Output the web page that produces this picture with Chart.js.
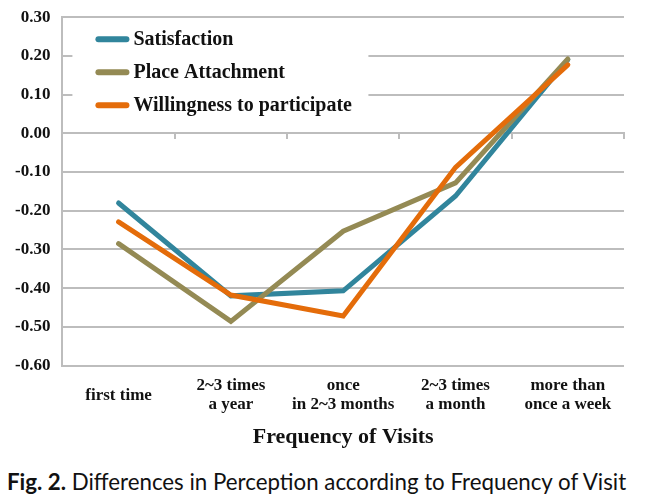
<!DOCTYPE html>
<html>
<head>
<meta charset="utf-8">
<script src="https://cdn.jsdelivr.net/npm/chart.js@4/dist/chart.umd.min.js"></script>
<style>
  body { margin: 0; background: #fff; }
  #wrap { position: relative; width: 645px; height: 499px; overflow: hidden; }
  #chartBox { position: absolute; left: 0; top: -5px; width: 645px; height: 456px; }
  #caption { position: absolute; left: 7px; top: 468px; font-family: Lato, "Noto Sans", sans-serif; font-size: 22.3px; color: #111; white-space: nowrap; }
</style>
</head>
<body>
<div id="wrap">
  <div id="chartBox"><canvas id="chart"></canvas></div>
  <div id="caption"><b>Fig. 2.</b> Differences in Perception according to Frequency of Visit</div>
</div>
<script>
const categories = [
    'first time',
    ['2~3 times', 'a year'],
    ['once', 'in 2~3 months'],
    ['2~3 times', 'a month'],
    ['more than', 'once a week']
];
const satisfaction = [-0.18, -0.42, -0.407, -0.162, 0.19];
const placeAttachment = [-0.285, -0.486, -0.253, -0.128, 0.192];
const willingness = [-0.229, -0.418, -0.472, -0.088, 0.177];
const yTicks = [0.30, 0.20, 0.10, 0.00, -0.10, -0.20, -0.30, -0.40, -0.50, -0.60];

const serif = '"Liberation Serif", "DejaVu Serif", serif';
const gridColor = '#bdbdbd';

// legend drawn inside the plot, on a white box
const insideLegend = {
    id: 'insideLegend',
    beforeDatasetsDraw(chart) {
        const ctx = chart.ctx;
        const area = chart.chartArea;
        const x0 = area.left + 10;
        const y0 = area.top + 6;
        ctx.save();
        ctx.fillStyle = '#fff';
        ctx.fillRect(x0, y0, 296, 104);
        ctx.font = 'bold 20px ' + serif;
        ctx.textBaseline = 'middle';
        chart.data.datasets.forEach((ds, i) => {
            const y = y0 + 16 + i * 33;
            ctx.strokeStyle = ds.borderColor;
            ctx.lineWidth = 6;
            ctx.lineCap = 'round';
            ctx.beginPath();
            ctx.moveTo(x0 + 26, y);
            ctx.lineTo(x0 + 54, y);
            ctx.stroke();
            ctx.fillStyle = '#111';
            ctx.fillText(ds.label, x0 + 61, y + 1);
        });
        ctx.restore();
    }
};

const ctx = document.getElementById('chart').getContext('2d');
new Chart(ctx, {
    type: 'line',
    data: {
        labels: categories,
        datasets: [{
            label: 'Satisfaction',
            data: satisfaction,
            borderColor: '#31859c',
            order: 2
        }, {
            label: 'Place Attachment',
            data: placeAttachment,
            borderColor: '#948a54',
            order: 1
        }, {
            label: 'Willingness to participate',
            data: willingness,
            borderColor: '#e46c0a',
            order: 0
        }]
    },
    options: {
        responsive: true,
        maintainAspectRatio: false,
        animation: false,
        layout: { padding: { left: 3, right: 21, top: 3, bottom: 0 } },
        elements: {
            line: { borderWidth: 5, tension: 0, borderCapStyle: 'round', borderJoinStyle: 'miter', fill: false },
            point: { radius: 0, hoverRadius: 0 }
        },
        plugins: {
            legend: { display: false },
            tooltip: { enabled: false }
        },
        scales: {
            x: {
                type: 'category',
                offset: true,
                grid: { display: false },
                border: { display: false },
                ticks: {
                    color: '#111',
                    // single-line label gets a taller line so it sits centred against the two-line ones
                    font: c => ({ family: serif, size: 17, weight: 'bold', lineHeight: c.index === 0 ? 2.24 : 1.12 }),
                    padding: 3,
                    maxRotation: 0,
                    autoSkip: false
                },
                title: {
                    display: true,
                    text: 'Frequency of Visits',
                    color: '#111',
                    font: { family: serif, size: 22, weight: 'bold' },
                    padding: { top: 7, bottom: 0 }
                }
            },
            x2: {
                type: 'category',
                axis: 'x',
                labels: categories,
                offset: true,
                position: { y: 0 },
                ticks: { display: false },
                grid: { offset: true, drawOnChartArea: false, drawTicks: true, tickLength: 5, color: gridColor, lineWidth: 2 },
                border: { display: true, color: gridColor, width: 2 }
            },
            y: {
                min: -0.6,
                max: 0.3,
                afterBuildTicks(scale) {
                    scale.ticks = yTicks.map(v => ({ value: v }));
                },
                grid: { color: gridColor, lineWidth: 2, drawTicks: false },
                border: { display: true, color: gridColor, width: 2 },
                ticks: {
                    color: '#111',
                    font: { family: serif, size: 17, weight: 'bold' },
                    padding: 12,
                    callback: v => v.toFixed(2)
                }
            }
        }
    },
    plugins: [insideLegend]
});
</script>
</body>
</html>
